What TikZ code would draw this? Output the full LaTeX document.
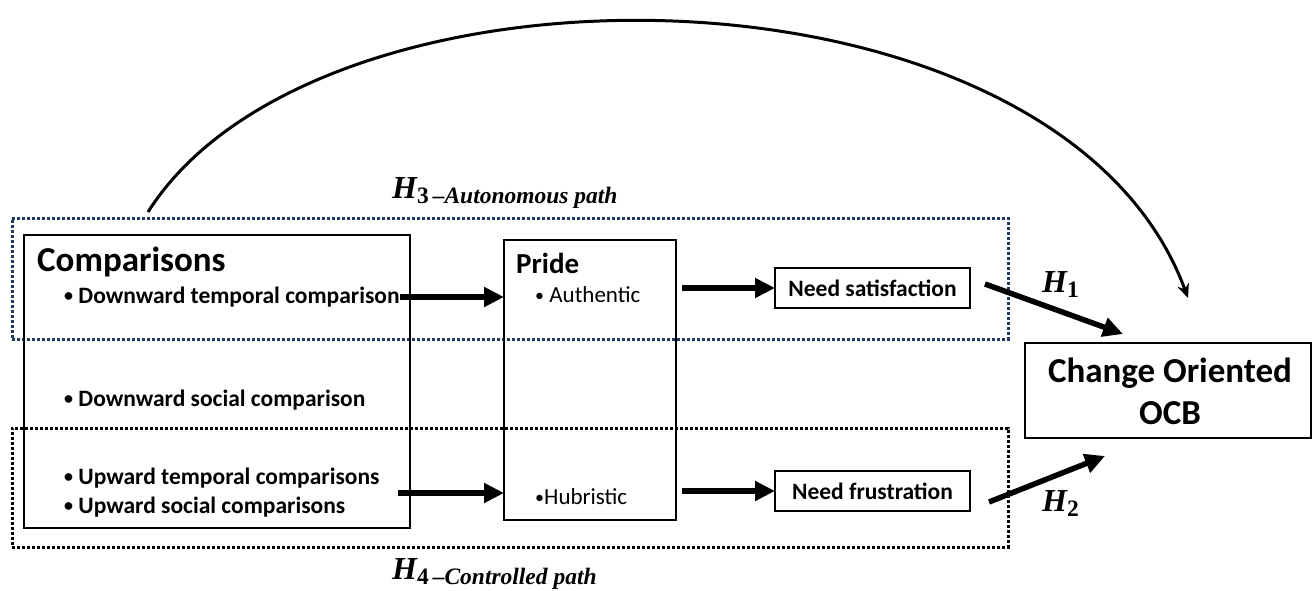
\documentclass[tikz,border=0pt]{standalone}
\usepackage{fontspec}
\setmainfont{Carlito}
\newfontfamily\hfont{Liberation Serif}
\usetikzlibrary{arrows.meta}
\definecolor{navy}{HTML}{1F3864}
\tikzset{
  box/.style={draw=black, line width=1.8pt, inner sep=0pt, outer sep=0pt, anchor=north west},
  dotbox/.style={draw=#1, line width=3pt, dash pattern=on 2.6pt off 2.4pt, inner sep=0pt, outer sep=0pt, anchor=north west},
  bigarrow/.style={line width=5.5pt, -{Triangle[length=20pt,width=19pt]}},
  curvearrow/.style={line width=3pt, -{Stealth[length=14pt,width=12pt]}},
  txt/.style={inner sep=0pt, anchor=west, font=\fontsize{23.5}{27}\selectfont\bfseries},
  head/.style={inner sep=0pt, anchor=west, font=\fontsize{35}{40}\selectfont\bfseries},
  hlab/.style={inner sep=0pt, anchor=base west},
}
\newcommand{\bul}{\raisebox{1.5pt}{\fontsize{18}{18}\selectfont •}}
\newcommand{\hyp}[2]{{\hfont\bfseries\itshape\fontsize{32}{34}\selectfont H}\raisebox{-5pt}{\hfont\bfseries\fontsize{23.5}{25}\selectfont #1\,{\itshape #2}}}
\begin{document}
\begin{tikzpicture}[x=1pt,y=-1pt]
\useasboundingbox (0,0) rectangle (1313,590);
% dotted path boxes
\node[dotbox=navy, minimum width=996pt, minimum height=121pt] (auto) at (12,218) {};
\node[dotbox=black, minimum width=996pt, minimum height=119pt] (ctrl) at (12,428) {};
% comparisons box
\node[box, minimum width=386pt, minimum height=293pt] (comp) at (24,235) {};
\node[head] (comptitle) at (37,262) {Comparisons};
\node[txt] (dtc) at (64,297) {\bul\ Downward temporal comparison};
\node[txt] (dsc) at (64,400) {\bul\ Downward social comparison};
\node[txt] (utc) at (64,478) {\bul\ Upward temporal comparisons};
\node[txt] (usc) at (64,507) {\bul\ Upward social comparisons};
% pride box
\node[box, minimum width=172pt, minimum height=280pt] (pride) at (504,240) {};
\node[inner sep=0pt, anchor=west, font=\fontsize{29}{34}\selectfont\bfseries] (pridetitle) at (516,263) {Pride};
\node[inner sep=0pt, anchor=west, font=\fontsize{23}{26}\selectfont] (auth) at (535,295) {\bul\ Authentic};
\node[inner sep=0pt, anchor=west, font=\fontsize{23}{26}\selectfont] (hub) at (535,497) {\bul Hubristic};
% need boxes
\node[box, minimum width=195pt, minimum height=40pt] (nsat) at (775,268) {};
\node[txt, anchor=center] (nsattxt) at (nsat.center) {Need satisfaction};
\node[box, minimum width=195pt, minimum height=40pt] (nfru) at (775,471) {};
\node[txt, anchor=center] (nfrutxt) at (nfru.center) {Need frustration};
% outcome
\node[box, minimum width=286pt, minimum height=95pt] (ocb) at (1025,343) {};
\node[inner sep=0pt, align=center, font=\fontsize{35}{42}\selectfont\bfseries] (ocbtxt) at (1170,391) {Change Oriented\\OCB};
% coordinates for connectors
\coordinate (a1s) at (400,297);
\coordinate (a2s) at (398,493);
\coordinate (h1s) at (985,284);
\coordinate (h1e) at (1123,334);
\coordinate (h2s) at (989,502);
\coordinate (h2e) at (1105,456);
\coordinate (cs) at (148,212);
\coordinate (ce) at (1188,298);
% arrows
\draw[bigarrow] (a1s) -- (pride.west |- a1s);
\draw[bigarrow] (a2s) -- (pride.west |- a2s);
\draw[bigarrow] (pride.east |- nsat.west) ++(6,0) -- (nsat.west);
\draw[bigarrow] (pride.east |- nfru.west) ++(6,0) -- (nfru.west);
\draw[bigarrow] (h1s) -- (h1e);
\draw[bigarrow] (h2s) -- (h2e);
\draw[curvearrow] (cs) .. controls (320,-60) and (1060,-50) .. (ce);
% hypothesis labels
\node[hlab] (h3) at (392,198) {\hyp{3}{–Autonomous path}};
\node[hlab] (h4) at (392,579) {\hyp{4}{–Controlled path}};
\node[hlab] (h1) at (1042,292) {\hyp{1}{}};
\node[hlab] (h2) at (1042,511) {\hyp{2}{}};
\end{tikzpicture}
\end{document}
